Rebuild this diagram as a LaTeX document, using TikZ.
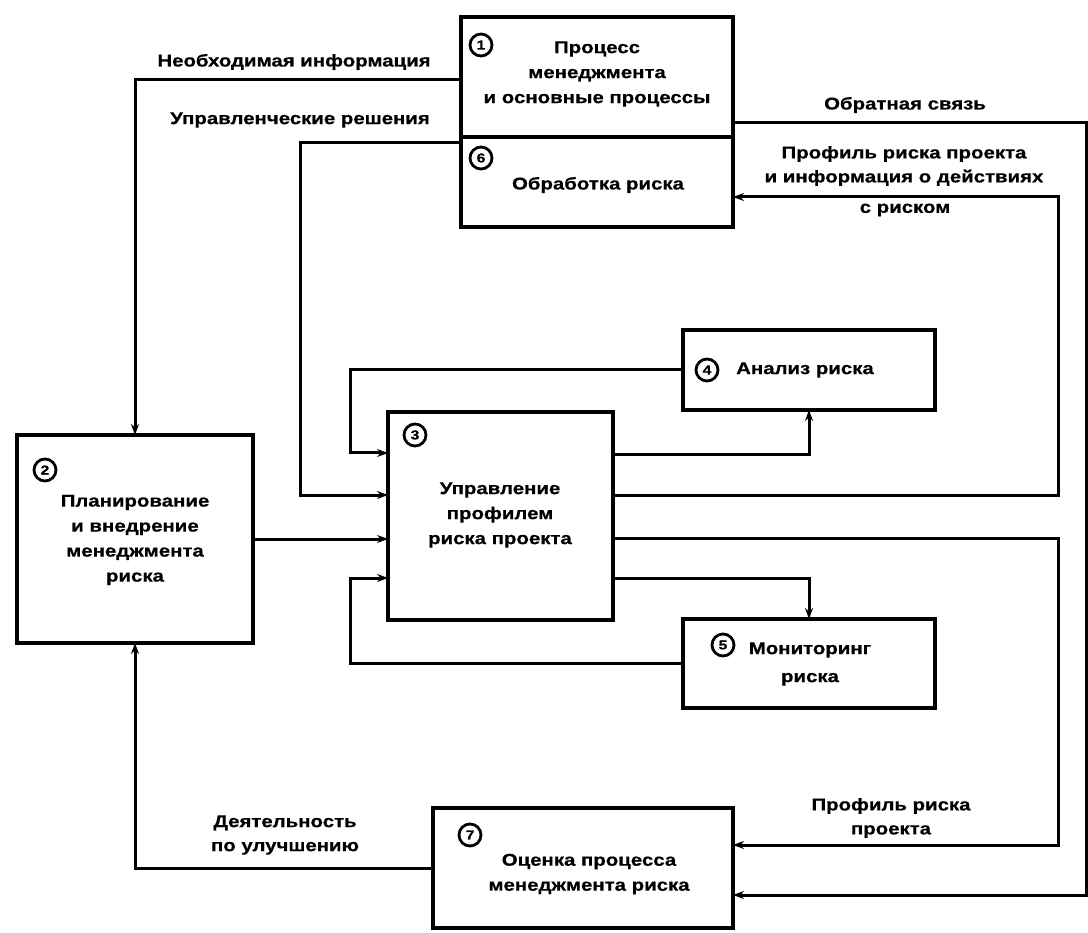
\documentclass[tikz,border=0pt]{standalone}
\usepackage{fontspec}
\setmainfont{Liberation Sans}[FakeStretch=1.2, BoldFeatures={FakeBold=0.6}]
\usetikzlibrary{arrows.meta,calc}
\begin{document}
\begin{tikzpicture}[x=1pt,y=-1pt,
  box/.style={draw, line width=4pt, inner sep=0pt, outer sep=0pt, anchor=north west},
  conn/.style={line width=3pt},
  arr/.style={line width=3pt, -{Stealth[length=11pt,width=8pt]}},
  num/.style={draw, circle, line width=2.8pt, minimum size=22pt, inner sep=0pt, font=\fontsize{13}{13}\selectfont\bfseries},
  txt/.style={align=center, font=\fontsize{17}{25}\selectfont\bfseries, inner sep=0pt},
  lbl/.style={align=center, font=\fontsize{17}{24}\selectfont\bfseries, inner sep=0pt}]
\useasboundingbox[fill=white] (0,0) rectangle (1088,933);

% boxes
\node[box, minimum width=272pt, minimum height=120pt] (b1) at (461,17) {};
\node[box, minimum width=272pt, minimum height=90pt] (b6) at (461,137) {};
\node[box, minimum width=236pt, minimum height=208pt] (b2) at (17,435) {};
\node[box, minimum width=225pt, minimum height=208pt] (b3) at (388,412) {};
\node[box, minimum width=252pt, minimum height=80pt] (b4) at (683,330) {};
\node[box, minimum width=252pt, minimum height=89pt] (b5) at (683,619) {};
\node[box, minimum width=300pt, minimum height=120pt] (b7) at (433,808) {};

% numbers
\node[num] (n1) at (481,45) {1};
\node[num] (n6) at (481,158) {6};
\node[num] (n2) at (45,470) {2};
\node[num] (n3) at (415,435) {3};
\node[num] (n4) at (707,370) {4};
\node[num] (n5) at (723,645) {5};
\node[num] (n7) at (470,835) {7};

% box texts
\node[txt] (t1) at (597,74) {Процесс\\менеджмента\\и основные процессы};
\node[txt] (t6) at (598,185) {Обработка риска};
\node[txt] (t2) at (135,540) {Планирование\\и внедрение\\менеджмента\\риска};
\node[txt] (t3) at (500,515) {Управление\\профилем\\риска проекта};
\node[txt, anchor=west] (t4) at (736,370) {Анализ риска};
\node[txt, font=\fontsize{17}{28}\selectfont\bfseries] (t5) at (810,664) {Мониторинг\\риска};
\node[txt] (t7) at (589,874) {Оценка процесса\\менеджмента риска};

% labels
\node[lbl] (l1) at (294,62) {Необходимая информация};
\node[lbl] (l2) at (300,120) {Управленческие решения};
\node[lbl] (l3) at (905,105) {Обратная связь};
\node[lbl] (l4) at (904,166) {Профиль риска проекта\\и информация о действиях};
\node[lbl] (l4b) at (905,210) {с риском};
\node[lbl] (l5) at (285,835) {Деятельность\\по улучшению};
\node[lbl] (l6) at (891,818) {Профиль риска\\проекта};

% connectors
\draw[arr] ($(b1.north west)+(0,63)$) -| (b2.north);
\draw[arr] ($(b6.north west)+(0,6)$) -| ($(b3.north west)+(-88,83)$) -- ($(b3.north west)+(0,83)$);
\draw[arr] ($(b1.north east)+(0,106)$) -| ($(b7.north east)+(353,87)$) -- ($(b7.north east)+(0,87)$);
\draw[arr] ($(b3.north east)+(0,83)$) -| ($(b6.north east)+(325,60)$) -- ($(b6.north east)+(0,60)$);
\draw[arr] ($(b3.north east)+(0,126)$) -| ($(b7.north east)+(325,37)$) -- ($(b7.north east)+(0,37)$);
\draw[arr] ($(b3.north east)+(0,43)$) -| (b4.south);
\draw[arr] (b4.west) -| ($(b3.north west)+(-38,41)$) -- ($(b3.north west)+(0,41)$);
\draw[arr] ($(b3.north east)+(0,166)$) -| (b5.north);
\draw[arr] (b5.west) -| ($(b3.north west)+(-38,166)$) -- ($(b3.north west)+(0,166)$);
\draw[arr] (b2.east) -- (b3.west |- b2.east);
\draw[arr] (b7.west) -| (b2.south);
\end{tikzpicture}
\end{document}
